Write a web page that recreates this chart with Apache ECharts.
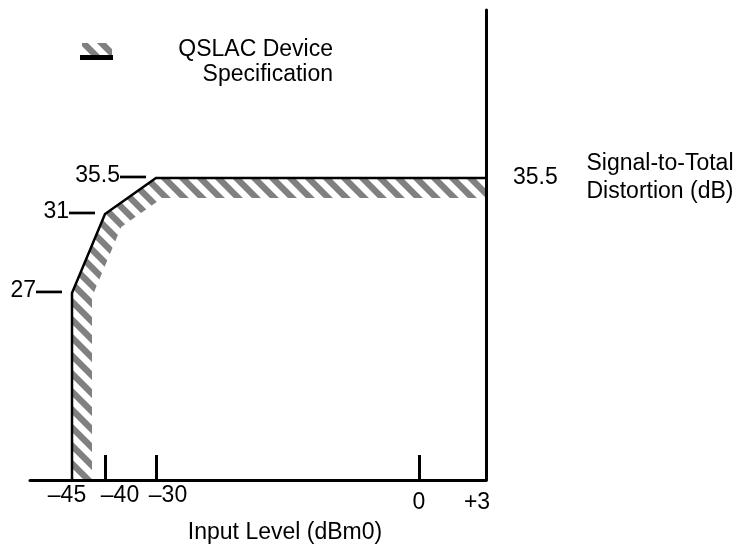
<!DOCTYPE html>
<html><head><meta charset="utf-8">
<script src="https://cdn.jsdelivr.net/npm/echarts@6/dist/echarts.min.js"></script>
<style>html,body{margin:0;padding:0;background:#fff}#c{width:740px;height:548px}</style>
</head><body><div id="c"></div>
<script>
// ---- data ----
const xTickValues = [-45, -40, -30, 0, 3];
const xTickLabels = ['–45', '–40', '–30', '0', '+3'];
const xTickMarks = [-40, -30, 0];
const yFloor = 0;                                   // curve runs down to the x axis
const specX = [-45, -45, -40, -30, 3];
const specY = [yFloor, 27, 31, 35.5, 35.5];
const cornerX = [-30, -40, -45];
const cornerY = [35.5, 31, 27];
const cornerLabels = ['35.5', '31', '27'];
const yAxisLabelValue = 35.5;

// ---- schematic (not-to-scale) axis spacing, as drawn in the datasheet ----
const xKnotReal = [-51, -45, -40, -30, 0, 3];
const xKnotPos  = [0, 0.0921, 0.1645, 0.2763, 0.853, 1];
const yKnotReal = [0, 27, 31, 35.5, 60];
const yKnotPos  = [0, 0.398, 0.566, 0.6426, 1];

function piecewise(real, pos) {
  return function (v) {
    for (let i = 0; i < real.length - 1; i++) {
      if (v <= real[i + 1] || i === real.length - 2) {
        const t = (v - real[i]) / (real[i + 1] - real[i]);
        return pos[i] + t * (pos[i + 1] - pos[i]);
      }
    }
  };
}
const fx = piecewise(xKnotReal, xKnotPos);
const fy = piecewise(yKnotReal, yKnotPos);

const FONT = "'Liberation Sans', Arial, Helvetica, sans-serif";
const FS = 23;

// diagonal hatch pattern
function makeHatch() {
  const P = 18, c = document.createElement('canvas');
  c.width = c.height = P;
  const ctx = c.getContext('2d');
  const img = ctx.createImageData(P, P);
  for (let y = 0; y < P; y++) for (let x = 0; x < P; x++) {
    let cov = 0;
    for (let sy = 0; sy < 4; sy++) for (let sx = 0; sx < 4; sx++) {
      let s = ((x + (sx + 0.5) / 4) - (y + (sy + 0.5) / 4)) % P;
      if (s < 0) s += P;
      if (s < P / 2) cov++;
    }
    cov /= 16;
    const g = Math.round(255 - cov * (255 - 128));
    const k = (y * P + x) * 4;
    img.data[k] = img.data[k + 1] = img.data[k + 2] = g;
    img.data[k + 3] = 255;
  }
  ctx.putImageData(img, 0, 0);
  return c;
}
const hatch = makeHatch();
const hatchFill = { image: hatch, repeat: 'repeat' };

const BAND = 20;

function bandRender(params, api) {
  if (params.dataIndex !== 0) return null;
  const pts = specX.map((x, i) => api.coord([fx(x), fy(specY[i])]));
  const n = [];
  for (let i = 0; i < pts.length - 1; i++) {
    const dx = pts[i + 1][0] - pts[i][0], dy = pts[i + 1][1] - pts[i][1];
    const L = Math.hypot(dx, dy);
    n.push([-dy / L, dx / L]);
  }
  const off = pts.map((p, i) => {
    if (i === 0) return [p[0] + n[0][0] * BAND, p[1] + n[0][1] * BAND];
    if (i === pts.length - 1) { const m = n[n.length - 1]; return [p[0] + m[0] * BAND, p[1] + m[1] * BAND]; }
    const a = n[i - 1], b = n[i];
    let mx = a[0] + b[0], my = a[1] + b[1];
    const ml = Math.hypot(mx, my); mx /= ml; my /= ml;
    const s = BAND / (mx * a[0] + my * a[1]);
    return [p[0] + mx * s, p[1] + my * s];
  });
  const poly = pts.concat(off.slice().reverse());
  return { type: 'polygon', shape: { points: poly }, style: { fill: hatchFill } };
}

function cornerRender(params, api) {
  const p = api.coord([api.value(0), api.value(1)]);
  const y = p[1] - 1;
  return {
    type: 'group',
    children: [
      { type: 'line', shape: { x1: p[0] - 36, y1: y, x2: p[0] - 10, y2: y }, style: { stroke: '#000', lineWidth: 2.7 } },
      { type: 'text', x: p[0] - 36, y: y - 1, style: { text: cornerLabels[params.dataIndex], fill: '#000', font: FS + 'px ' + FONT, align: 'right', verticalAlign: 'middle' } }
    ]
  };
}

function idxOfX(v) {
  let best = 0, bd = Infinity;
  xTickValues.forEach((t, i) => { const d = Math.abs(fx(t) - v); if (d < bd) { bd = d; best = i; } });
  return best;
}

const chart = echarts.init(document.getElementById('c'), null, { renderer: 'canvas' });
chart.setOption({
  animation: false,
  backgroundColor: '#fff',
  textStyle: { fontFamily: FONT },
  grid: { left: 30, right: 254, top: 10, bottom: 68, containLabel: false, outerBoundsMode: 'none' },
  xAxis: {
    type: 'value', min: 0, max: 1, z: 5,
    axisLine: { show: true, onZero: false, lineStyle: { color: '#000', width: 3 } },
    splitLine: { show: false },
    axisTick: { show: true, inside: true, length: 25, lineStyle: { color: '#000', width: 3 }, customValues: xTickMarks.map(fx) },
    axisLabel: {
      customValues: xTickValues.map(fx), margin: 4, color: '#000', fontSize: FS, fontFamily: FONT,
      formatter: v => { const i = idxOfX(v); return '{r' + i + '|' + xTickLabels[i] + '}'; },
      rich: {
        r0: { fontSize: FS, fontFamily: FONT, color: '#000', padding: [0, 10, 0, 0] },
        r1: { fontSize: FS, fontFamily: FONT, color: '#000', padding: [0, 0, 0, 30] },
        r2: { fontSize: FS, fontFamily: FONT, color: '#000', padding: [0, 0, 0, 24] },
        r3: { fontSize: FS, fontFamily: FONT, color: '#000', padding: [7, 0, 0, 0] },
        r4: { fontSize: FS, fontFamily: FONT, color: '#000', padding: [7, 18, 0, 0] }
      }
    },
    name: 'Input Level (dBm0)', nameLocation: 'middle', nameGap: 41,
    nameTextStyle: { color: '#000', fontSize: FS, fontFamily: FONT, padding: [0, 0, 0, 54] }
  },
  yAxis: {
    type: 'value', min: 0, max: 1, position: 'right', z: 5,
    axisLine: { show: true, onZero: false, lineStyle: { color: '#000', width: 3 } },
    splitLine: { show: false },
    axisTick: { show: false },
    axisLabel: {
      customValues: [fy(yAxisLabelValue)], margin: 27, color: '#000', fontSize: FS, fontFamily: FONT,
      formatter: () => String(yAxisLabelValue), padding: [3, 0, 0, 0]
    }
  },
  graphic: [
    { type: 'rect', shape: { x: 82, y: 43, width: 30, height: 12 }, style: { fill: hatchFill } },
    { type: 'rect', shape: { x: 80, y: 55, width: 33, height: 5 }, style: { fill: '#000' } },
    { type: 'text', x: 333, y: 37, style: { text: 'QSLAC Device\nSpecification', fill: '#000', font: FS + 'px ' + FONT, align: 'right', verticalAlign: 'top', lineHeight: 25 } },
    { type: 'text', x: 660, y: 178, style: { text: 'Signal-to-Total\nDistortion (dB)', fill: '#000', font: FS + 'px ' + FONT, align: 'center', verticalAlign: 'middle', lineHeight: 28 } }
  ],
  series: [
    { type: 'custom', name: 'QSLAC Device Specification', coordinateSystem: 'cartesian2d', silent: true, clip: false, z: 1,
      renderItem: bandRender, data: specX.map((x, i) => [fx(x), fy(specY[i])]) },
    { type: 'line', data: specX.map((x, i) => [fx(x), fy(specY[i])]), symbol: 'none', silent: true, z: 3,
      lineStyle: { color: '#000', width: 2.5, join: 'miter' } },
    { type: 'custom', coordinateSystem: 'cartesian2d', silent: true, clip: false, z: 4,
      renderItem: cornerRender, data: cornerX.map((x, i) => [fx(x), fy(cornerY[i])]) }
  ]
});
</script></body></html>
